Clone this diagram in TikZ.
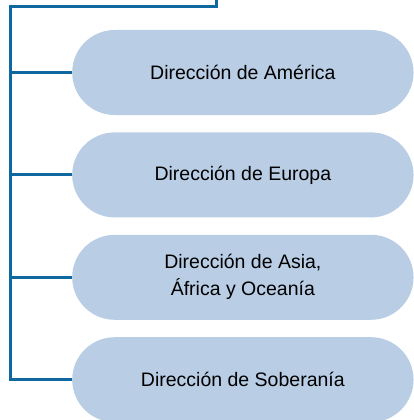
\documentclass[tikz,border=0pt]{standalone}
\usepackage{fontspec}
\setmainfont{Liberation Sans}
\usepackage{tikz}
\usetikzlibrary{shapes.misc, positioning}
\definecolor{linkblue}{RGB}{16,104,160}
\definecolor{pillblue}{RGB}{185,205,229}
\tikzset{
	direccion/.style={
		rounded rectangle,
		minimum width=348pt,
		minimum height=85pt,
		text centered,
		align=center,
		fill=pillblue,
		font=\fontsize{19.5pt}{27pt}\selectfont
	},
	link/.style={draw=linkblue, line width=3pt}
}

\begin{document}
\begin{tikzpicture}[x=1pt, y=-1pt, node distance=17pt]
	\useasboundingbox (0,0) rectangle (414,420);
	\coordinate (top) at (216,0);
	\coordinate (corner) at (216,7);
	\coordinate (leftcorner) at (10,7);
	\node (america) [direccion, anchor=west] at (72,72.5) {Dirección de América};
	\node (europa) [direccion, below=of america] {Dirección de Europa};
	\node (asia) [direccion, below=of europa] {Dirección de Asia,\\África y Oceanía};
	\node (soberania) [direccion, below=of asia] {Dirección de Soberanía};

	\draw [link] (top) -- (corner) -- (leftcorner) |- (soberania.west);
	\draw [link] (leftcorner |- america.west) -- (america.west);
	\draw [link] (leftcorner |- europa.west) -- (europa.west);
	\draw [link] (leftcorner |- asia.west) -- (asia.west);
\end{tikzpicture}
\end{document}
